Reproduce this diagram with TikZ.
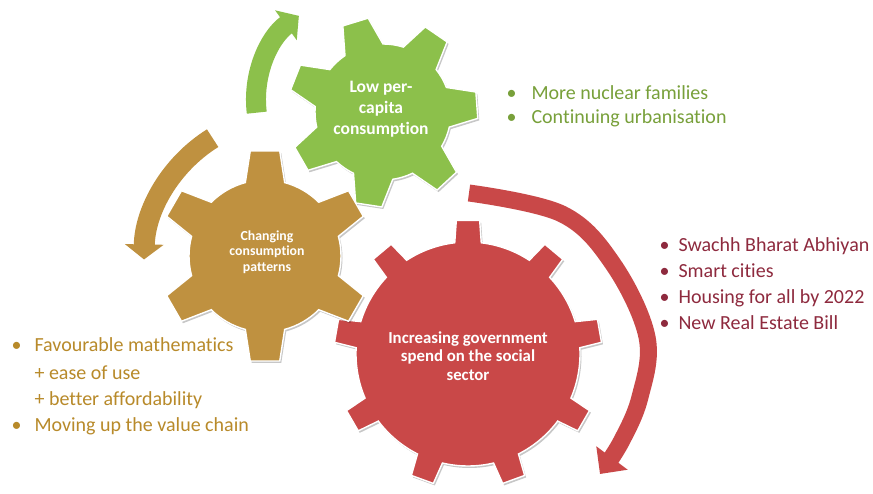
\documentclass[tikz,border=0pt]{standalone}
\usepackage{fontspec}
\setmainfont{Carlito}[Ligatures=NoCommon]
\usetikzlibrary{arrows.meta}
\definecolor{gGreen}{HTML}{8CC04B}
\definecolor{gGold}{HTML}{BF9140}
\definecolor{gRed}{HTML}{C94848}
\definecolor{tGreen}{HTML}{78A03A}
\definecolor{tGold}{HTML}{B88A2A}
\definecolor{tRed}{HTML}{8E2A3E}
% #1 options, #2 last index, #3 step, #4 offset, #5 body radius, #6 tip radius, #7 base half-angle, #8 tip half-angle
\newcommand{\drawgear}[8]{%
  \path[#1] ({#4-#7}:#5) \foreach \i [evaluate=\i as \th using #4+\i*#3] in {0,...,#2} {
    -- ({\th-#8}:#6) -- ({\th+#8}:#6) -- ({\th+#7}:#5)
    arc[start angle=\th+#7, end angle=\th+#3-#7, radius=#5]
  } -- cycle;}
\tikzset{
  gearshadow/.style={fill=black, opacity=0.22},
  gearbody/.style={fill=#1, draw=white, line width=1.4pt},
  geartext/.style 2 args={text=white, align=center, font=\bfseries\fontsize{#1}{#2}\selectfont},
  listtext/.style={anchor=base west, font=\fontsize{20}{24}\selectfont, text=#1},
  bul/.style={anchor=base west, font=\fontsize{20}{24}\selectfont, text=#1},
  cyclearrow/.style={draw=#1, line width=19pt}
}
\begin{document}
\begin{tikzpicture}[x=1pt,y=1pt]
\useasboundingbox (0,0) rectangle (873,494);
\fill[white] (0,0) rectangle (873,494);

% curved arrows
\coordinate (gac) at (360,394);
\coordinate (oac) at (290,232);
\draw[cyclearrow=gGreen, line width=20pt, -{Triangle[length=16pt,width=36pt]}]
  ([shift={(gac)}]187:104) arc[start angle=187, end angle=126, radius=104];
\draw[cyclearrow=gGold, line width=21pt, -{Triangle[length=15pt,width=38pt]}]
  ([shift={(oac)}]122:146) arc[start angle=122, end angle=179, radius=146];
\draw[cyclearrow=gRed, line width=17pt, -{Triangle[length=20pt,width=38pt]}]
  plot[smooth, tension=0.6] coordinates {(469,301) (562,280) (613,230) (647,157) (640,97) (621,52) (600,20)};

% red gear
\begin{scope}[shift={(468,140)}]
  \begin{scope}[shift={(1.5,-2)}]\drawgear{gearshadow}{8}{40}{90}{112}{134}{6.8}{5}\end{scope}
  \drawgear{gearbody=gRed}{8}{40}{90}{112}{134}{6.8}{5}
  \node[geartext={16.8}{18.5}] (tred) at (0,-2) {Increasing government\\spend on the social\\sector};
\end{scope}

% gold gear
\begin{scope}[shift={(265,238)}]
  \begin{scope}[shift={(1.5,-2)}]\drawgear{gearshadow}{5}{60}{90}{76}{106}{15}{8}\end{scope}
  \drawgear{gearbody=gGold}{5}{60}{90}{76}{106}{15}{8}
  \node[geartext={13.8}{15.5}] (tgold) at (2,4) {Changing\\consumption\\patterns};
\end{scope}

% green gear
\begin{scope}[shift={(383,382)}]
  \begin{scope}[shift={(1.5,-2)}]\drawgear{gearshadow}{6}{51.4286}{107}{68}{95}{17}{8}\end{scope}
  \drawgear{gearbody=gGreen}{6}{51.4286}{107}{68}{95}{17}{8}
  \node[geartext={17.5}{21}] (tgreen) at (-2,3) {Low per-\\capita\\consumption};
\end{scope}

% green list
\node[bul=tGreen] (gb1) at (503,394) {\textbullet};
\node[listtext=tGreen] (gl1) at (528,394) {More nuclear families};
\node[bul=tGreen] (gb2) at (503,370) {\textbullet};
\node[listtext=tGreen] (gl2) at (528,370) {Continuing urbanisation};

% red list
\node[bul=tRed] (rb1) at (656,242) {\textbullet};
\node[listtext=tRed] (rl1) at (675,242) {Swachh Bharat Abhiyan};
\node[bul=tRed] (rb2) at (656,216) {\textbullet};
\node[listtext=tRed] (rl2) at (675,216) {Smart cities};
\node[bul=tRed] (rb3) at (656,190) {\textbullet};
\node[listtext=tRed] (rl3) at (675,190) {Housing for all by 2022};
\node[bul=tRed] (rb4) at (656,164) {\textbullet};
\node[listtext=tRed] (rl4) at (675,164) {New Real Estate Bill};

% gold list
\node[bul=tGold] (ob1) at (8,142) {\textbullet};
\node[listtext=tGold] (ol1) at (31,142) {Favourable mathematics};
\node[listtext=tGold] (ol2) at (31,114) {+ ease of use};
\node[listtext=tGold] (ol3) at (31,88) {+ better affordability};
\node[bul=tGold] (ob4) at (8,62) {\textbullet};
\node[listtext=tGold] (ol4) at (31,62) {Moving up the value chain};
\end{tikzpicture}
\end{document}
